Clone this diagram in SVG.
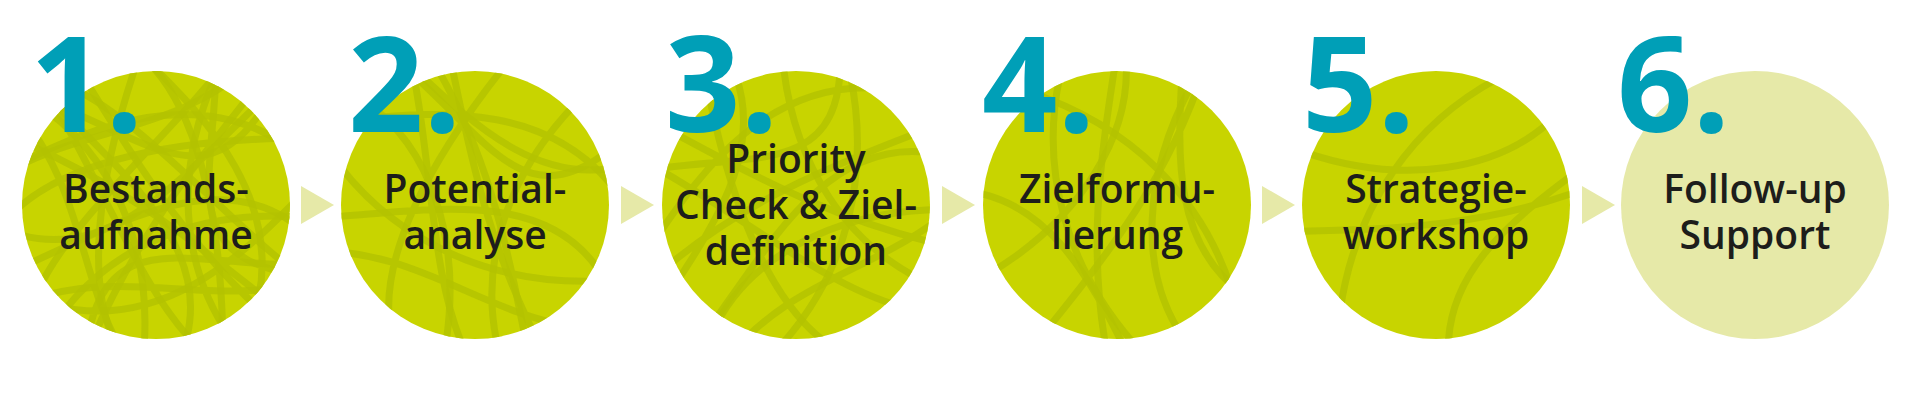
<svg xmlns="http://www.w3.org/2000/svg" width="1921" height="401" viewBox="0 0 1921 401">
<style>
.c{fill:#c8d400}
.c6{fill:#e6e9a8}
.tex{fill:none;stroke:#b3c200;stroke-width:7;opacity:.8}
.num{font-family:"Open Sans",sans-serif;font-weight:700;font-size:132px;fill:#009fb7}
.lbl{font-family:"Open Sans",sans-serif;font-weight:600;font-size:39px;fill:#1d1d1b;text-anchor:middle}
.ar{fill:#e6e9a8}
</style>
<defs>
<clipPath id="k1"><circle cx="156" cy="205" r="134"/></clipPath>
<clipPath id="k2"><circle cx="475" cy="205" r="134"/></clipPath>
<clipPath id="k3"><circle cx="796" cy="205" r="134"/></clipPath>
<clipPath id="k4"><circle cx="1117" cy="205" r="134"/></clipPath>
<clipPath id="k5"><circle cx="1436" cy="205" r="134"/></clipPath>
<g id="scr">
<path d="M-120,-130 C-60,-40 -20,80 40,140 M-80,-140 C-30,-60 20,30 120,120 M-140,-40 C-60,-80 40,-120 130,-60 M-130,60 C-40,20 60,-40 140,20 M-20,-140 C-60,-20 -70,80 -40,140 M60,-130 C20,-40 20,60 80,140 M-140,100 C-40,60 40,100 140,80 M-100,-100 C0,-60 60,0 120,-120"/>
</g>
<g id="scr2">
<path d="M-100,-120 C-40,-20 10,60 100,130 M-140,-30 C-40,-70 60,-60 140,-10 M-20,-140 C0,-40 60,40 140,60 M-130,90 C-60,40 20,70 110,110"/>
</g>
</defs>
<g id="connectors">
<polygon class="ar" points="301,186 334,205 301,224"/>
<polygon class="ar" points="621,186 654,205 621,224"/>
<polygon class="ar" points="942,186 975,205 942,224"/>
<polygon class="ar" points="1262,186 1295,205 1262,224"/>
<polygon class="ar" points="1582,186 1615,205 1582,224"/>
</g>
<g id="node1"><circle class="c" cx="156" cy="205" r="134"/>
<g clip-path="url(#k1)"><use href="#scr" class="tex" transform="translate(156,205)"/><use href="#scr" class="tex" transform="translate(156,205) rotate(70)"/><use href="#scr" class="tex" transform="translate(156,205) rotate(160)"/></g>
<text class="num" x="30" y="132">1.</text>
<text class="lbl" x="156" y="203">Bestands-</text><text class="lbl" x="156" y="249">aufnahme</text></g>
<g id="node2"><circle class="c" cx="475" cy="205" r="134"/>
<g clip-path="url(#k2)"><use href="#scr" class="tex" transform="translate(475,205) rotate(20)"/><use href="#scr2" class="tex" transform="translate(475,205) rotate(200)"/></g>
<text class="num" x="348" y="132">2.</text>
<text class="lbl" x="475" y="203">Potential-</text><text class="lbl" x="475" y="249">analyse</text></g>
<g id="node3"><circle class="c" cx="796" cy="205" r="134"/>
<g clip-path="url(#k3)"><use href="#scr" class="tex" transform="translate(796,205) rotate(-30)"/><use href="#scr2" class="tex" transform="translate(796,205) rotate(100)"/></g>
<text class="num" x="665" y="132">3.</text>
<text class="lbl" x="796" y="173">Priority</text><text class="lbl" x="796" y="219">Check &amp; Ziel-</text><text class="lbl" x="796" y="265">definition</text></g>
<g id="node4"><circle class="c" cx="1117" cy="205" r="134"/>
<g clip-path="url(#k4)"><use href="#scr2" class="tex" transform="translate(1117,205) rotate(40)"/><use href="#scr2" class="tex" transform="translate(1117,205) rotate(250)"/></g>
<text class="num" x="982" y="132">4.</text>
<text class="lbl" x="1117" y="203">Zielformu-</text><text class="lbl" x="1117" y="249">lierung</text></g>
<g id="node5"><circle class="c" cx="1436" cy="205" r="134"/>
<g clip-path="url(#k5)"><use href="#scr2" class="tex" transform="translate(1436,205) rotate(-60)" opacity=".5"/></g>
<text class="num" x="1302" y="132">5.</text>
<text class="lbl" x="1436" y="203">Strategie-</text><text class="lbl" x="1436" y="249">workshop</text></g>
<g id="node6"><circle class="c6" cx="1755" cy="205" r="134"/>
<text class="num" x="1617" y="132">6.</text>
<text class="lbl" x="1755" y="203">Follow-up</text><text class="lbl" x="1755" y="249">Support</text></g>
</svg>
